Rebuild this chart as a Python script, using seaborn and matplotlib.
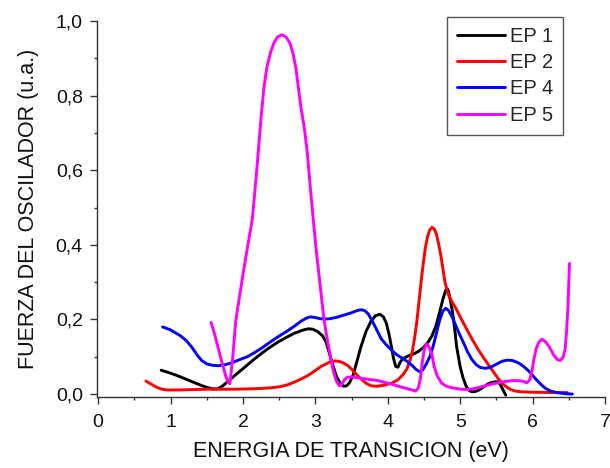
import matplotlib
matplotlib.use("Agg")
import matplotlib.pyplot as plt
from matplotlib.ticker import MultipleLocator, FuncFormatter
import seaborn as sns
import pandas as pd

# ---- data ----
series_names = ["EP 1", "EP 2", "EP 4", "EP 5"]

x_ep1 = [0.87, 1.0, 1.1, 1.2, 1.3, 1.4, 1.5, 1.58, 1.65, 1.72, 1.8, 1.9, 2.0, 2.12, 2.25,
         2.37, 2.48, 2.6, 2.71, 2.82, 2.9, 2.96, 3.03, 3.1, 3.15, 3.19, 3.24, 3.29, 3.34,
         3.39, 3.43, 3.47, 3.52, 3.57, 3.63, 3.7, 3.77, 3.83, 3.89, 3.94, 3.98, 4.02, 4.05,
         4.08, 4.11, 4.14, 4.17, 4.21, 4.28, 4.35, 4.42, 4.49, 4.56, 4.61, 4.66, 4.7, 4.74,
         4.77, 4.8, 4.82, 4.84, 4.86, 4.89, 4.91, 4.93, 4.95, 4.98, 5.0, 5.04, 5.08, 5.12,
         5.16, 5.21, 5.26, 5.33, 5.39, 5.45, 5.51, 5.55, 5.59, 5.63]
y_ep1 = [0.064, 0.056, 0.049, 0.041, 0.033, 0.025, 0.018, 0.014, 0.014, 0.022, 0.035,
         0.052, 0.068, 0.088, 0.108, 0.125, 0.139, 0.152, 0.163, 0.171, 0.175, 0.174,
         0.168, 0.156, 0.138, 0.112, 0.078, 0.048, 0.03, 0.021, 0.022, 0.03, 0.05, 0.085,
         0.127, 0.168, 0.196, 0.21, 0.214, 0.207, 0.19, 0.158, 0.127, 0.095, 0.074, 0.072,
         0.085, 0.095, 0.102, 0.107, 0.114, 0.124, 0.14, 0.156, 0.18, 0.207, 0.238, 0.26,
         0.278, 0.283, 0.275, 0.255, 0.225, 0.198, 0.165, 0.128, 0.095, 0.073, 0.043,
         0.022, 0.01, 0.006, 0.007, 0.011, 0.02, 0.028, 0.032, 0.033, 0.027, 0.012, -0.003]

x_ep2 = [0.66, 0.73, 0.8, 0.88, 0.95, 1.05, 1.14, 1.3, 1.5, 1.7, 1.9, 2.1, 2.25, 2.4, 2.52,
         2.62, 2.71, 2.8, 2.88, 2.94, 3.02, 3.08, 3.13, 3.2, 3.27, 3.32, 3.38, 3.45, 3.52,
         3.58, 3.63, 3.7, 3.77, 3.85, 3.96, 4.05, 4.14, 4.21, 4.26, 4.3, 4.34, 4.37, 4.4,
         4.43, 4.46, 4.49, 4.52, 4.55, 4.58, 4.61, 4.64, 4.67, 4.7, 4.73, 4.76, 4.79, 4.83,
         4.88, 4.94, 5.0, 5.06, 5.12, 5.18, 5.24, 5.3, 5.36, 5.42, 5.48, 5.53, 5.58, 5.64,
         5.7, 5.76, 5.85, 6.0, 6.25, 6.48]
y_ep2 = [0.035, 0.027, 0.019, 0.013, 0.011, 0.011, 0.011, 0.012, 0.013, 0.013, 0.013,
         0.014, 0.015, 0.017, 0.02, 0.025, 0.032, 0.04, 0.048, 0.055, 0.066, 0.074, 0.079,
         0.086, 0.089, 0.088, 0.084, 0.076, 0.063, 0.05, 0.041, 0.029, 0.022, 0.021, 0.024,
         0.029, 0.038, 0.052, 0.066, 0.085, 0.115, 0.15, 0.192, 0.245, 0.3, 0.35, 0.393,
         0.423, 0.44, 0.447, 0.443, 0.43, 0.405, 0.375, 0.338, 0.3, 0.27, 0.25, 0.23, 0.207,
         0.185, 0.163, 0.142, 0.122, 0.104, 0.087, 0.07, 0.054, 0.04, 0.029, 0.019, 0.012,
         0.008, 0.006, 0.005, 0.004, 0.004]

x_ep4 = [0.89, 1.0, 1.13, 1.22, 1.3, 1.37, 1.43, 1.5, 1.58, 1.66, 1.74, 1.85, 1.95, 2.06,
         2.15, 2.25, 2.38, 2.52, 2.62, 2.71, 2.8, 2.87, 2.93, 3.0, 3.07, 3.14, 3.2, 3.3, 3.4,
         3.5, 3.58, 3.63, 3.68, 3.73, 3.78, 3.84, 3.91, 3.98, 4.05, 4.12, 4.2, 4.28, 4.34,
         4.39, 4.44, 4.48, 4.53, 4.58, 4.63, 4.68, 4.72, 4.76, 4.8, 4.84, 4.88, 4.93, 4.98,
         5.04, 5.1, 5.16, 5.22, 5.28, 5.35, 5.42, 5.5, 5.58, 5.65, 5.72, 5.8, 5.87, 5.94,
         6.0, 6.06, 6.12, 6.18, 6.25, 6.33, 6.45, 6.55]
y_ep4 = [0.18, 0.172, 0.157, 0.143, 0.124, 0.104, 0.09, 0.081, 0.077, 0.076, 0.078, 0.084,
         0.092, 0.1, 0.11, 0.122, 0.14, 0.158, 0.17, 0.182, 0.195, 0.203, 0.207, 0.205,
         0.202, 0.201, 0.202, 0.206, 0.212, 0.218, 0.224, 0.226, 0.224, 0.215, 0.198, 0.175,
         0.148, 0.132, 0.118, 0.106, 0.096, 0.086, 0.076, 0.066, 0.06, 0.064, 0.08, 0.1,
         0.13, 0.17, 0.2, 0.222, 0.23, 0.224, 0.21, 0.188, 0.165, 0.14, 0.114, 0.093, 0.079,
         0.071, 0.069, 0.072, 0.08, 0.088, 0.091, 0.09, 0.084, 0.075, 0.063, 0.05, 0.037,
         0.025, 0.015, 0.008, 0.004, 0.001, 0.0]

x_ep5 = [1.56, 1.61, 1.66, 1.71, 1.76, 1.8, 1.82, 1.86, 1.9, 1.95, 2.0, 2.06, 2.13, 2.17,
         2.21, 2.25, 2.29, 2.33, 2.38, 2.43, 2.48, 2.54, 2.6, 2.65, 2.69, 2.73, 2.76, 2.8,
         2.85, 2.89, 2.93, 2.97, 3.01, 3.05, 3.09, 3.12, 3.17, 3.21, 3.25, 3.29, 3.33, 3.36,
         3.4, 3.44, 3.5, 3.57, 3.63, 3.75, 3.87, 3.98, 4.1, 4.2, 4.3, 4.38, 4.42, 4.45, 4.48,
         4.51, 4.54, 4.57, 4.61, 4.64, 4.68, 4.74, 4.8, 4.88, 5.0, 5.12, 5.22, 5.3, 5.4,
         5.49, 5.6, 5.72, 5.8, 5.87, 5.92, 5.96, 5.99, 6.02, 6.05, 6.09, 6.13, 6.18, 6.23,
         6.29, 6.34, 6.38, 6.42, 6.45, 6.47, 6.49, 6.5, 6.51]
y_ep5 = [0.192, 0.16, 0.122, 0.085, 0.05, 0.03, 0.028, 0.1, 0.195, 0.258, 0.32, 0.39, 0.47,
         0.555, 0.645, 0.74, 0.822, 0.875, 0.915, 0.942, 0.958, 0.963, 0.956, 0.94, 0.915,
         0.875, 0.83, 0.77, 0.71, 0.645, 0.555, 0.47, 0.39, 0.32, 0.25, 0.198, 0.14, 0.098,
         0.06, 0.035, 0.022, 0.025, 0.038, 0.045, 0.046, 0.044, 0.042, 0.039, 0.036, 0.03,
         0.024, 0.018, 0.013, 0.008, 0.015, 0.04, 0.09, 0.125, 0.134, 0.126, 0.106, 0.075,
         0.05, 0.03, 0.022, 0.017, 0.013, 0.012, 0.016, 0.02, 0.025, 0.029, 0.033, 0.036,
         0.036, 0.034, 0.03, 0.038, 0.06, 0.095, 0.122, 0.14, 0.147, 0.14, 0.127, 0.105,
         0.093, 0.09, 0.098, 0.12, 0.17, 0.24, 0.3, 0.35]

line_colors = ["#000000", "#ff0000", "#0000ff", "#ff00ff"]

x_ticks = [0, 1, 2, 3, 4, 5, 6, 7]
y_ticks = [0.0, 0.2, 0.4, 0.6, 0.8, 1.0]
x_label = "ENERGIA DE TRANSICION (eV)"
y_label = "FUERZA DEL OSCILADOR (u.a.)"

# ---- plotting ----
sns.set_style("ticks")
plt.rcParams["font.family"] = ["Liberation Sans", "DejaVu Sans"]

fig = plt.figure(figsize=(6.1, 4.68), dpi=100)
ax = fig.add_axes([0.1585, 0.1524, 0.8333, 0.8027])

all_x = [x_ep1, x_ep2, x_ep4, x_ep5]
all_y = [y_ep1, y_ep2, y_ep4, y_ep5]
for name, xs, ys, col in zip(series_names, all_x, all_y, line_colors):
    df = pd.DataFrame({"x": xs, "y": ys})
    sns.lineplot(data=df, x="x", y="y", ax=ax, color=col, linewidth=2.1,
                 label=name, estimator=None, sort=False,
                 solid_joinstyle="round", solid_capstyle="round")

ax.set_xlim(-0.02, 7)
ax.set_ylim(-0.007, 1.0)
ax.set_xticks(x_ticks)
ax.set_yticks(y_ticks)
ax.xaxis.set_minor_locator(MultipleLocator(0.5))
ax.yaxis.set_minor_locator(MultipleLocator(0.1))
ax.yaxis.set_major_formatter(FuncFormatter(lambda v, p: f"{v:.1f}".replace(".", ",")))
ax.xaxis.set_major_formatter(FuncFormatter(lambda v, p: f"{int(round(v))}"))

sns.despine(ax=ax)
for s in ["left", "bottom"]:
    ax.spines[s].set_color("#333333")
    ax.spines[s].set_linewidth(1.0)

ax.tick_params(which="major", direction="out", length=5, width=1.0, color="#333333",
               labelsize=14, labelcolor="#111111", pad=5)
ax.tick_params(axis="x", which="major", pad=7.5)
ax.tick_params(which="minor", direction="out", length=2.5, width=1.0, color="#333333")

ax.set_xlabel(x_label, fontsize=15.5, color="#111111", labelpad=7)
ax.set_ylabel(y_label, fontsize=15.5, color="#111111", labelpad=12)

leg = ax.legend(loc="upper right", bbox_to_anchor=(0.918, 1.011), fontsize=14.5,
                frameon=True, fancybox=False, framealpha=1, edgecolor="#555555",
                handlelength=2.4, handletextpad=0.25, labelspacing=0.36,
                borderpad=0.5, borderaxespad=0.0)
leg.get_frame().set_linewidth(1.0)
for lh in leg.get_lines():
    lh.set_linewidth(2.1)

fig.savefig("out.png", dpi=100)
